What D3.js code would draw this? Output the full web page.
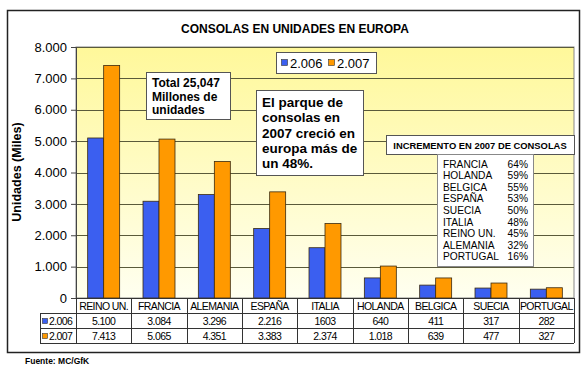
<!DOCTYPE html>
<html lang="es">
<head>
  <meta charset="UTF-8" />
  <title>Consolas en unidades en Europa</title>
  <script src="https://d3js.org/d3.v7.min.js"></script>
  <style>
    body { margin: 0; padding: 0; background: #fff; }
    svg text { font-family: "Liberation Sans", Arial, sans-serif; fill: #000; }
  </style>
</head>
<body>
<div id="chart"></div>
<script>
  // Data
  const categories = ["REINO UN.", "FRANCIA", "ALEMANIA", "ESPAÑA", "ITALIA", "HOLANDA", "BELGICA", "SUECIA", "PORTUGAL"];
  const series = ["2.006", "2.007"];
  const values2006 = [5100, 3084, 3296, 2216, 1603, 640, 411, 317, 282];
  const values2007 = [7413, 5065, 4351, 3383, 2374, 1018, 639, 477, 327];
  const tableLabels2006 = ["5.100", "3.084", "3.296", "2.216", "1603", "640", "411", "317", "282"];
  const tableLabels2007 = ["7.413", "5.065", "4.351", "3.383", "2.374", "1.018", "639", "477", "327"];
  const yTicks = [0, 1000, 2000, 3000, 4000, 5000, 6000, 7000, 8000];
  const incrementNames = ["FRANCIA", "HOLANDA", "BELGICA", "ESPAÑA", "SUECIA", "ITALIA", "REINO UN.", "ALEMANIA", "PORTUGAL"];
  const incrementPct = ["64%", "59%", "55%", "53%", "50%", "48%", "45%", "32%", "16%"];
  const colors = ["#3b5ff0", "#ff9900"];

  const width = 587, height = 368;
  const plot = { left: 76, right: 574, top: 47, bottom: 298 };

  const svg = d3.select("#chart").append("svg")
    .attr("width", width)
    .attr("height", height);

  const defs = svg.append("defs");
  const bg = defs.append("linearGradient")
    .attr("id", "plotBg")
    .attr("x1", 0).attr("y1", 0).attr("x2", 0).attr("y2", 1);
  bg.append("stop").attr("offset", "0%").attr("stop-color", "#fff89a");
  bg.append("stop").attr("offset", "100%").attr("stop-color", "#fffff0");

  // Outer frame
  svg.append("rect")
    .attr("x", 7.5).attr("y", 10.5)
    .attr("width", 572).attr("height", 342)
    .attr("fill", "#fff")
    .attr("stroke", "#222")
    .attr("stroke-width", 1.5);

  // Title
  svg.append("text")
    .attr("x", 295).attr("y", 33)
    .attr("text-anchor", "middle")
    .style("font-size", "12px")
    .style("font-weight", "bold")
    .text("CONSOLAS EN UNIDADES EN EUROPA");

  // Scales
  const y = d3.scaleLinear().domain([0, 8000]).range([plot.bottom, plot.top]);
  const x0 = d3.scaleBand().domain(categories).range([plot.left, plot.right]);
  const x1 = d3.scaleBand().domain(series).range([0, x0.bandwidth()]).paddingOuter(0.73);

  // Plot background
  svg.append("rect")
    .attr("x", plot.left).attr("y", plot.top)
    .attr("width", plot.right - plot.left)
    .attr("height", plot.bottom - plot.top)
    .attr("fill", "url(#plotBg)")
    .attr("stroke", "#888");

  // Gridlines
  svg.append("g")
    .selectAll("line")
    .data(yTicks.filter(d => d > 0))
    .join("line")
    .attr("x1", plot.left).attr("x2", plot.right)
    .attr("y1", d => Math.round(y(d)) + 0.5)
    .attr("y2", d => Math.round(y(d)) + 0.5)
    .attr("stroke", "#5a5a3a")
    .attr("stroke-width", 1);

  // Y axis
  const yAxis = svg.append("g")
    .attr("transform", `translate(${plot.left},0)`)
    .call(d3.axisLeft(y).tickValues(yTicks).tickSize(5).tickPadding(4)
      .tickFormat(d => d === 0 ? "0" : d3.format(",")(d).replace(",", ".")));
  yAxis.select(".domain").attr("stroke", "#444");
  yAxis.selectAll(".tick line").attr("stroke", "#444");
  yAxis.selectAll("text")
    .style("font-size", "13px")
    .style("font-family", "'Liberation Sans', Arial, sans-serif");

  svg.append("text")
    .attr("transform", "translate(21,172) rotate(-90)")
    .attr("text-anchor", "middle")
    .style("font-size", "12.5px")
    .style("font-weight", "bold")
    .text("Unidades (Miles)");

  // Bars
  const rows = categories.map((c, i) => ({ cat: c, vals: [values2006[i], values2007[i]] }));
  const groups = svg.append("g")
    .selectAll("g")
    .data(rows)
    .join("g")
    .attr("transform", d => `translate(${x0(d.cat)},0)`);

  groups.selectAll("rect")
    .data(d => d.vals.map((v, j) => ({ s: series[j], v, j })))
    .join("rect")
    .attr("x", d => x1(d.s))
    .attr("y", d => y(d.v))
    .attr("width", x1.bandwidth())
    .attr("height", d => plot.bottom - y(d.v))
    .attr("fill", d => colors[d.j])
    .attr("stroke", "#3a2a10")
    .attr("stroke-width", 0.8);

  // Data table
  const tbl = { top: 298, row: 15 };
  const tableG = svg.append("g");
  [0, 1, 2, 3].forEach(r => {
    tableG.append("line")
      .attr("x1", r === 0 ? plot.left : 40).attr("x2", plot.right)
      .attr("y1", tbl.top + r * tbl.row + 0.5).attr("y2", tbl.top + r * tbl.row + 0.5)
      .attr("stroke", "#333");
  });
  tableG.append("line")
    .attr("x1", 40.5).attr("x2", 40.5)
    .attr("y1", tbl.top + tbl.row).attr("y2", tbl.top + 3 * tbl.row)
    .attr("stroke", "#333");
  categories.concat(["end"]).forEach(c => {
    const xx = c === "end" ? plot.right : x0(c);
    tableG.append("line")
      .attr("x1", Math.round(xx) + 0.5).attr("x2", Math.round(xx) + 0.5)
      .attr("y1", tbl.top).attr("y2", tbl.top + 3 * tbl.row)
      .attr("stroke", "#333");
  });
  const cellText = (labels, row) => {
    tableG.append("g").selectAll("text")
      .data(labels)
      .join("text")
      .attr("x", (d, i) => x0(categories[i]) + x0.bandwidth() / 2)
      .attr("y", tbl.top + row * tbl.row + 11.5)
      .attr("text-anchor", "middle")
      .style("font-size", "10.5px")
      .style("letter-spacing", "-0.6px")
      .text(d => d);
  };
  cellText(categories, 0);
  cellText(tableLabels2006, 1);
  cellText(tableLabels2007, 2);
  series.forEach((s, j) => {
    const yy = tbl.top + (j + 1) * tbl.row;
    tableG.append("rect")
      .attr("x", 42.5).attr("y", yy + 5.5)
      .attr("width", 5).attr("height", 5)
      .attr("fill", colors[j]).attr("stroke", "#333").attr("stroke-width", 0.6);
    tableG.append("text")
      .attr("x", 49).attr("y", yy + 11.5)
      .style("font-size", "10.5px")
      .style("letter-spacing", "-0.6px")
      .text(s);
  });

  // Legend
  const legend = svg.append("g");
  legend.append("rect")
    .attr("x", 276.5).attr("y", 52.5).attr("width", 100).attr("height", 21)
    .attr("fill", "#fff").attr("stroke", "#555");
  series.forEach((s, j) => {
    const lx = 281 + j * 47;
    legend.append("rect")
      .attr("x", lx + 0.5).attr("y", 59.5).attr("width", 6).attr("height", 6)
      .attr("fill", colors[j]).attr("stroke", "#333").attr("stroke-width", 0.6);
    legend.append("text")
      .attr("x", lx + 9).attr("y", 68)
      .style("font-size", "13px")
      .text(s);
  });

  // Annotation boxes
  function textBox(x, yTop, w, h, lines, opts) {
    const g = svg.append("g");
    g.append("rect")
      .attr("x", x + 0.5).attr("y", yTop + 0.5).attr("width", w).attr("height", h)
      .attr("fill", "#fff").attr("stroke", "#555").attr("stroke-width", 1);
    g.selectAll("text")
      .data(lines)
      .join("text")
      .attr("x", opts.anchor === "middle" ? x + w / 2 : x + opts.padX)
      .attr("y", (d, i) => opts.baseline + i * opts.lh)
      .attr("text-anchor", opts.anchor || "start")
      .style("font-size", opts.size + "px")
      .style("font-weight", opts.bold ? "bold" : "normal")
      .text(d => d);
    return g;
  }

  textBox(146, 72, 84, 47, ["Total 25,047", "Millones de", "unidades"],
    { padX: 6, baseline: 87, lh: 13.5, size: 12, bold: true });

  textBox(256, 90, 107, 85, ["El parque de", "consolas en", "2007 creció en", "europa más de", "un 48%."],
    { padX: 6, baseline: 107, lh: 15.3, size: 13.5, bold: true });

  textBox(386, 135, 188, 19, ["INCREMENTO EN 2007 DE CONSOLAS"],
    { anchor: "middle", baseline: 148.5, lh: 0, size: 9.4, bold: true });

  const incG = svg.append("g");
  incG.append("rect")
    .attr("x", 437.5).attr("y", 154.5).attr("width", 96).attr("height", 112)
    .attr("fill", "#fff").attr("stroke", "#888");
  incG.selectAll("text.name")
    .data(incrementNames)
    .join("text")
    .attr("class", "name")
    .attr("x", 443)
    .attr("y", (d, i) => 167.5 + i * 11.6)
    .style("font-size", "10.2px")
    .text(d => d);
  incG.selectAll("text.pct")
    .data(incrementPct)
    .join("text")
    .attr("class", "pct")
    .attr("x", 528)
    .attr("y", (d, i) => 167.5 + i * 11.6)
    .attr("text-anchor", "end")
    .style("font-size", "10.2px")
    .text(d => d);

  // Source
  svg.append("text")
    .attr("x", 25).attr("y", 364)
    .style("font-size", "8.5px")
    .style("font-weight", "bold")
    .text("Fuente: MC/GfK");
</script>
</body>
</html>
